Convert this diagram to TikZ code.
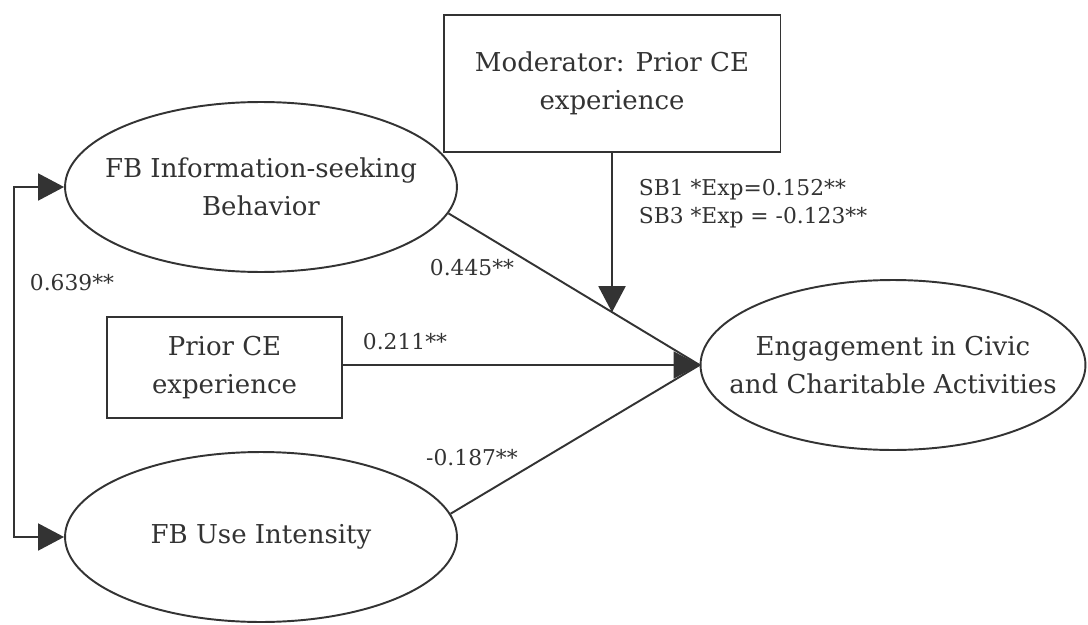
\documentclass[tikz,border=0pt]{standalone}
\usepackage{fontspec}
\setmainfont{DejaVu Serif}
\usepackage{xcolor}
\usetikzlibrary{arrows.meta, shapes.geometric, calc}
\definecolor{inkgray}{HTML}{333333}

\begin{document}
\begin{tikzpicture}[x=0.02cm, y=-0.02cm, >={Triangle[length=0.52cm, width=0.54cm]},
    line width=1.1pt, draw=inkgray, text=inkgray,
    font=\fontsize{14.8}{21.5}\selectfont,
    construct/.style={ellipse, draw, align=center, inner xsep=-0.6cm, inner ysep=0pt},
    observed/.style={rectangle, draw, align=center, inner sep=0pt},
    coef/.style={font=\fontsize{12.4}{16}\selectfont}]
    \useasboundingbox (0, 0) rectangle (1088, 625);

    % Latent constructs
    \node[construct, minimum width=7.84cm, minimum height=3.4cm] (fbinfo) at (261, 187) {FB Information-seeking\\Behavior};
    \node[construct, minimum width=7.84cm, minimum height=3.4cm] (fbuse) at (261, 537) {FB Use Intensity};
    \node[construct, minimum width=7.7cm, minimum height=3.4cm] (engage) at (893, 365) {Engagement in Civic\\and Charitable Activities};

    % Observed variables
    \node[observed, minimum width=6.74cm, minimum height=2.74cm] (moder) at (612, 83.5) {Moderator: Prior CE\\experience};
    \node[observed, minimum width=4.7cm, minimum height=2.02cm] (prior) at (224.5, 367.5) {Prior CE\\experience};

    % Paths to the outcome (they meet under one arrow head)
    \draw (fbinfo.-8) -- coordinate[pos=0.652] (meet) (engage.west);
    \draw (fbuse.7) -- (engage.west);
    \draw[->] (prior.east |- engage.west) -- (engage.west);

    % Moderation
    \draw[->] (moder.south) -- (moder.south |- meet);

    % Covariance
    \coordinate (bend) at (14, 362);
    \draw[<->] (fbinfo.west) -| (bend) |- (fbuse.west);

    % Coefficients
    \node[coef] (c639) at (72, 283) {0.639**};
    \node[coef] (c445) at (472, 268) {0.445**};
    \node[coef] (c211) at (405, 342) {0.211**};
    \node[coef] (c187) at (472, 458) {-0.187**};
    \node[coef, anchor=west, align=left] (cmod) at (632, 204) {SB1 *Exp=0.152**\\SB3 *Exp = -0.123**};
\end{tikzpicture}
\end{document}
